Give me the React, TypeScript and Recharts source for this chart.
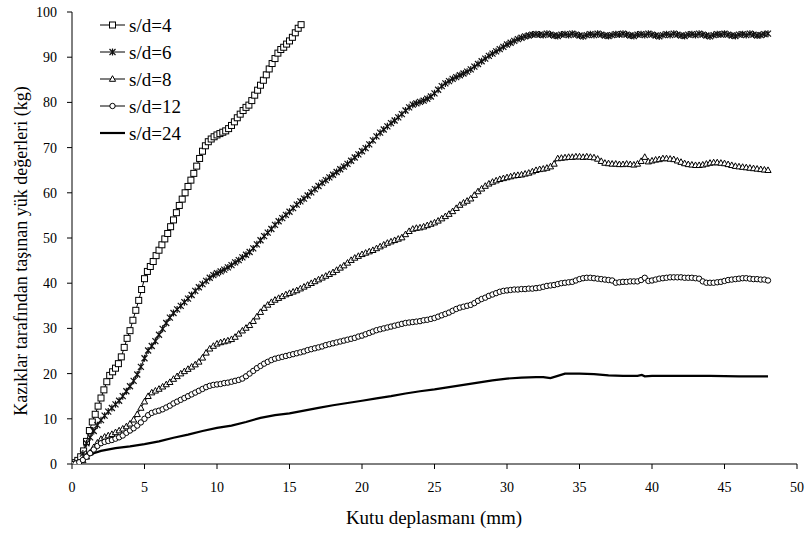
import React from "react";
import { LineChart, Line, XAxis, YAxis, Legend } from "recharts";

// ── Data ───────────────────────────────────────────────────────────────────────

const SERIES_NAMES = ["s/d=4", "s/d=6", "s/d=8", "s/d=12", "s/d=24"];

const X_TICKS = [0, 5, 10, 15, 20, 25, 30, 35, 40, 45, 50];
const Y_TICKS = [0, 10, 20, 30, 40, 50, 60, 70, 80, 90, 100];

// box displacement (mm) for s/d=4
const xs4 = [
  0, 0.2, 0.4, 0.6, 0.8, 1, 1.2, 1.4, 1.6, 1.8,
  2, 2.2, 2.4, 2.6, 2.8, 3, 3.2, 3.4, 3.6, 3.8,
  4, 4.2, 4.4, 4.6, 4.8, 5, 5.2, 5.4, 5.6, 5.8,
  6, 6.2, 6.4, 6.6, 6.8, 7, 7.2, 7.4, 7.6, 7.8,
  8, 8.2, 8.4, 8.6, 8.8, 9, 9.2, 9.4, 9.6, 9.8,
  10, 10.2, 10.4, 10.6, 10.8, 11, 11.2, 11.4, 11.6, 11.8,
  12, 12.2, 12.4, 12.6, 12.8, 13, 13.2, 13.4, 13.6, 13.8,
  14, 14.2, 14.4, 14.6, 14.8, 15, 15.2, 15.4, 15.6, 15.8,
];

const y4 = [
  0, 0.3, 0.8, 1.6, 2.9, 5.0, 7.4, 9.3, 11.0, 12.8,
  14.6, 16.4, 18.2, 19.6, 20.4, 21.2, 22.2, 23.7, 25.8, 27.8,
  29.5, 31.8, 34.0, 36.2, 38.6, 41.0, 42.6, 43.7, 44.8, 46.1,
  47.3, 48.5, 49.8, 51.0, 52.5, 54.0, 55.6, 57.2, 58.6, 60.0,
  61.4, 62.8, 64.3, 65.9, 67.6, 69.2, 70.4, 71.3, 71.9, 72.4,
  72.8, 73.1, 73.4, 73.7, 74.2, 74.9, 75.7, 76.6, 77.4, 78.2,
  78.9, 79.4, 80.4, 81.6, 82.7, 83.8, 84.9, 86.1, 87.4, 88.6,
  89.7, 90.9, 91.7, 92.2, 92.9, 93.6, 94.4, 95.4, 96.4, 97.2,
];

// box displacement (mm) for s/d=6, 8, 12
const xs = [
  0, 0.25, 0.5, 0.75, 1, 1.25, 1.5, 1.75,
  2, 2.25, 2.5, 2.75, 3, 3.25, 3.5, 3.75,
  4, 4.25, 4.5, 4.75, 5, 5.25, 5.5, 5.75,
  6, 6.25, 6.5, 6.75, 7, 7.25, 7.5, 7.75,
  8, 8.25, 8.5, 8.75, 9, 9.25, 9.5, 9.75,
  10, 10.25, 10.5, 10.75, 11, 11.25, 11.5, 11.75,
  12, 12.25, 12.5, 12.75, 13, 13.25, 13.5, 13.75,
  14, 14.25, 14.5, 14.75, 15, 15.25, 15.5, 15.75,
  16, 16.25, 16.5, 16.75, 17, 17.25, 17.5, 17.75,
  18, 18.25, 18.5, 18.75, 19, 19.25, 19.5, 19.75,
  20, 20.25, 20.5, 20.75, 21, 21.25, 21.5, 21.75,
  22, 22.25, 22.5, 22.75, 23, 23.25, 23.5, 23.75,
  24, 24.25, 24.5, 24.75, 25, 25.25, 25.5, 25.75,
  26, 26.25, 26.5, 26.75, 27, 27.25, 27.5, 27.75,
  28, 28.25, 28.5, 28.75, 29, 29.25, 29.5, 29.75,
  30, 30.25, 30.5, 30.75, 31, 31.25, 31.5, 31.75,
  32, 32.25, 32.5, 32.75, 33, 33.25, 33.5, 33.75,
  34, 34.25, 34.5, 34.75, 35, 35.25, 35.5, 35.75,
  36, 36.25, 36.5, 36.75, 37, 37.25, 37.5, 37.75,
  38, 38.25, 38.5, 38.75, 39, 39.25, 39.5, 39.75,
  40, 40.25, 40.5, 40.75, 41, 41.25, 41.5, 41.75,
  42, 42.25, 42.5, 42.75, 43, 43.25, 43.5, 43.75,
  44, 44.25, 44.5, 44.75, 45, 45.25, 45.5, 45.75,
  46, 46.25, 46.5, 46.75, 47, 47.25, 47.5, 47.75,
  48,
];

const y6 = [
  0, 0, 0.2, 2.3, 4.6, 5.9, 7.3, 8.6,
  9.7, 10.7, 11.6, 12.4, 13.2, 14.0, 15.0, 16.1,
  17.2, 18.4, 19.8, 21.5, 23.4, 25.1, 26.1, 27.2,
  28.6, 29.9, 31.2, 32.4, 33.4, 34.2, 35.0, 35.8,
  36.6, 37.4, 38.3, 39.1, 39.8, 40.5, 41.2, 41.8,
  42.2, 42.6, 43.0, 43.5, 44.0, 44.6, 45.1, 45.7,
  46.3, 46.9, 47.7, 48.6, 49.5, 50.4, 51.2, 52.0,
  52.9, 53.7, 54.4, 55.1, 55.8, 56.6, 57.4, 58.1,
  58.7, 59.4, 60.1, 60.8, 61.5, 62.2, 62.8, 63.4,
  64.0, 64.6, 65.2, 65.8, 66.4, 67.1, 67.8, 68.5,
  69.2, 69.9, 70.7, 71.6, 72.5, 73.3, 74.0, 74.7,
  75.4, 76.0, 76.7, 77.4, 78.2, 78.9, 79.5, 79.8,
  80.1, 80.4, 80.8, 81.3, 82.0, 82.8, 83.6, 84.2,
  84.7, 85.2, 85.6, 86.0, 86.4, 86.8, 87.3, 87.9,
  88.5, 89.1, 89.7, 90.3, 90.8, 91.3, 91.8, 92.3,
  92.8, 93.2, 93.6, 94.0, 94.3, 94.6, 94.8, 95.0,
  95.1, 95.0, 94.9, 95.2, 95.0, 94.8, 94.7, 95.0,
  95.1, 94.9, 95.2, 95.0, 94.8, 94.6, 94.9, 95.1,
  94.9, 95.2, 95.0, 94.8, 94.7, 94.9, 95.1, 95.0,
  95.2, 95.0, 94.8, 94.7, 95.0, 95.1, 94.9, 95.2,
  95.0, 94.8, 94.6, 94.9, 95.1, 94.9, 95.2, 95.0,
  94.8, 94.7, 95.0, 95.1, 94.9, 95.2, 95.0, 94.8,
  94.6, 94.9, 95.1, 95.0, 95.2, 95.0, 94.8, 94.7,
  95.0, 95.1, 94.9, 95.2, 95.0, 94.8, 94.9, 95.1,
  95.2,
];

const y8 = [
  0, 0, 0.1, 0.8, 1.6, 2.5, 3.7, 4.7,
  5.5, 6.0, 6.3, 6.6, 7.0, 7.4, 7.8, 8.3,
  8.9, 9.8, 11.0, 12.4, 13.8, 15.0, 15.8, 16.2,
  16.6, 17.1, 17.6, 18.1, 18.8, 19.4, 20.0, 20.5,
  21.0, 21.5, 22.0, 22.6, 23.5, 24.6, 25.5, 26.1,
  26.6, 26.9, 27.1, 27.3, 27.6, 28.1, 28.8, 29.5,
  30.1, 30.7, 31.6, 32.6, 33.6, 34.5, 35.2, 35.8,
  36.3, 36.7, 37.1, 37.5, 37.8, 38.1, 38.4, 38.8,
  39.2, 39.6, 40.0, 40.4, 40.8, 41.2, 41.6, 42.0,
  42.4, 42.9, 43.4, 43.9, 44.5, 45.1, 45.6, 46.0,
  46.4, 46.7, 47.0, 47.3, 47.7, 48.1, 48.5, 48.9,
  49.2, 49.5, 49.8, 50.1, 50.8, 51.5, 52.0, 52.2,
  52.3, 52.5, 52.8, 53.1, 53.4, 53.8, 54.3, 54.8,
  55.3, 55.9, 56.6, 57.3, 57.8, 58.2, 58.7, 59.5,
  60.3, 60.9, 61.5, 62.0, 62.4, 62.7, 63.0, 63.2,
  63.4, 63.6, 63.8, 63.9, 64.0, 64.2, 64.4, 64.7,
  65.0, 65.2, 65.3, 65.5, 65.8, 66.4, 67.6, 67.7,
  67.8, 67.9, 67.9, 68.0, 68.0, 67.9, 68.0, 67.9,
  67.8, 67.5, 67.0, 66.6, 66.5, 66.4, 66.4, 66.3,
  66.3, 66.4, 66.3, 66.2, 66.4, 67.0, 67.9, 66.9,
  67.1, 67.3, 67.4, 67.6, 67.6, 67.5, 67.4, 67.1,
  66.8, 66.5, 66.3, 66.2, 66.1, 66.1, 66.2, 66.4,
  66.6, 66.7, 66.7, 66.6, 66.5, 66.3, 66.1, 65.9,
  65.8, 65.7, 65.6, 65.5, 65.4, 65.3, 65.2, 65.1,
  65.0,
];

const y12 = [
  0, 0.1, 0.4, 0.9, 1.6, 2.4, 3.2, 4.0,
  4.6, 4.9, 5.1, 5.3, 5.6, 5.9, 6.3, 6.9,
  7.4, 7.9, 8.5, 9.2, 10.0, 10.8, 11.3, 11.6,
  11.8, 12.1, 12.5, 12.9, 13.4, 13.8, 14.2, 14.6,
  15.0, 15.4, 15.8, 16.2, 16.6, 17.0, 17.3, 17.5,
  17.6, 17.7, 17.9, 18.0, 18.2, 18.4, 18.6, 18.9,
  19.4, 20.0, 20.6, 21.2, 21.7, 22.2, 22.6, 23.0,
  23.3, 23.5, 23.7, 23.9, 24.1, 24.3, 24.5, 24.7,
  24.9, 25.2, 25.4, 25.6, 25.8, 26.0, 26.3, 26.5,
  26.7, 26.9, 27.1, 27.3, 27.5, 27.7, 27.9, 28.2,
  28.4, 28.7, 29.0, 29.3, 29.6, 29.8, 30.0, 30.2,
  30.4, 30.6, 30.8, 31.0, 31.2, 31.3, 31.4, 31.5,
  31.6, 31.8, 31.9, 32.1, 32.3, 32.6, 32.9, 33.2,
  33.5, 33.9, 34.3, 34.6, 34.8, 35.0, 35.2, 35.6,
  36.1, 36.5, 36.8, 37.2, 37.5, 37.8, 38.1, 38.3,
  38.4, 38.5, 38.6, 38.6, 38.7, 38.7, 38.8, 38.8,
  38.9, 39.0, 39.2, 39.4, 39.5, 39.6, 39.8, 40.0,
  40.1, 40.2, 40.3, 40.6, 40.9, 41.1, 41.2, 41.2,
  41.1, 41.0, 40.9, 40.8, 40.7, 40.6, 40.1, 40.2,
  40.3, 40.3, 40.4, 40.4, 40.4, 40.7, 41.2, 40.5,
  40.6, 40.8, 41.0, 41.1, 41.2, 41.3, 41.3, 41.3,
  41.3, 41.2, 41.2, 41.2, 41.1, 41.0, 40.4, 40.1,
  40.1, 40.1, 40.2, 40.3, 40.5, 40.7, 40.8, 40.9,
  41.0, 41.1, 41.1, 41.0, 40.9, 40.9, 40.8, 40.8,
  40.6,
];

// s/d=24 is drawn as a plain line, so a coarser set of points is enough
const xs24 = [
  0, 0.5, 1, 1.5, 2, 3, 4, 5, 6, 7, 8, 9, 10, 11, 12, 13, 14, 15, 16, 17,
  18, 19, 20, 21, 22, 23, 24, 25, 26, 27, 28, 29, 30, 31, 32, 32.5, 33, 33.5,
  34, 35, 36, 37, 38, 39, 39.3, 39.5, 40, 42, 44, 46, 48,
];

const y24 = [
  0, 0.5, 1.6, 2.4, 2.9, 3.5, 3.9, 4.4, 5.0, 5.8, 6.5, 7.3, 8.0, 8.5, 9.3, 10.2, 10.8, 11.2, 11.8, 12.4,
  13.0, 13.5, 14.0, 14.5, 15.0, 15.6, 16.1, 16.5, 17.0, 17.5, 18.0, 18.5, 18.9, 19.1, 19.2, 19.2, 19.0, 19.5,
  20.0, 20.0, 19.9, 19.6, 19.5, 19.5, 19.7, 19.4, 19.5, 19.5, 19.5, 19.4, 19.4,
];

const toPoints = (x: number[], y: number[]) => x.map((v, i) => ({ x: v, y: y[i] }));

const FONT = "Liberation Serif";

// ── Markers ───────────────────────────────────────────────────────────────────

function squareMark(cx: number, cy: number, key?: string) {
  return <rect key={key} x={cx - 3} y={cy - 3} width={6} height={6} fill="#fff" stroke="#000" strokeWidth={1} />;
}

function starMark(cx: number, cy: number, key?: string) {
  const d =
    `M${cx - 3},${cy - 3}L${cx + 3},${cy + 3}` +
    `M${cx + 3},${cy - 3}L${cx - 3},${cy + 3}` +
    `M${cx},${cy - 3.5}L${cx},${cy + 3.5}`;
  return <path key={key} d={d} stroke="#111" strokeWidth={1.2} fill="none" />;
}

function triangleMark(cx: number, cy: number, key?: string) {
  const pts = `${cx},${cy - 3.3} ${cx - 3.1},${cy + 2.3} ${cx + 3.1},${cy + 2.3}`;
  return <polygon key={key} points={pts} fill="#fff" stroke="#000" strokeWidth={1} />;
}

function circleMark(cx: number, cy: number, key?: string) {
  return <circle key={key} cx={cx} cy={cy} r={2.7} fill="#fff" stroke="#000" strokeWidth={1} />;
}

const MARKS = [squareMark, starMark, triangleMark, circleMark, null];

const dotFor = (i: number) => (p: any) => {
  const mark = MARKS[i];
  if (!mark || p.cx == null || p.cy == null) return <g key={`d${i}-${p.index}`} />;
  return mark(p.cx, p.cy, `d${i}-${p.index}`);
};

// ── Legend ───────────────────────────────────────────────────────────────────

function LegendBox() {
  return (
    <svg width={220} height={150} style={{ display: "block" }}>
      {SERIES_NAMES.map((name, i) => {
        const y = 25 + i * 27;
        const mark = MARKS[i];
        return (
          <g key={name}>
            <line x1={100} x2={125} y1={y} y2={y} stroke="#000" strokeWidth={mark ? 1 : 2.2} />
            {mark && mark(112.5, y)}
            <text x={129} y={y} dy="0.35em" fontSize={19} fontFamily={FONT} fill="#000">
              {name}
            </text>
          </g>
        );
      })}
    </svg>
  );
}

// ── Axis titles ───────────────────────────────────────────────────────────────

const YTitle = () => (
  <text
    x={21}
    y={251}
    transform="rotate(-90 21 251)"
    textAnchor="middle"
    dominantBaseline="central"
    fontSize={18}
    fontFamily={FONT}
    fill="#000"
  >
    Kazıklar tarafından taşınan yük değerleri (kg)
  </text>
);

const XTitle = () => (
  <text x={434} y={517} textAnchor="middle" dominantBaseline="central" fontSize={19} fontFamily={FONT} fill="#000">
    Kutu deplasmanı (mm)
  </text>
);

// ── Chart ────────────────────────────────────────────────────────────────────

export default function App() {
  const series = [
    toPoints(xs4, y4),
    toPoints(xs, y6),
    toPoints(xs, y8),
    toPoints(xs, y12),
    toPoints(xs24, y24),
  ];

  return (
    <div style={{ position: "absolute", left: 0, top: 0, width: 805, height: 534, background: "#fff", fontFamily: FONT }}>
      <LineChart width={805} height={534} margin={{ top: 12, right: 8, left: 8, bottom: 0 }}>
        <XAxis
          type="number"
          dataKey="x"
          domain={[0, 50]}
          ticks={X_TICKS}
          allowDataOverflow
          height={70}
          tickSize={5}
          tickMargin={13}
          stroke="#000"
          tick={{ fontSize: 14, fontFamily: FONT, fill: "#000" }}
          label={XTitle}
        />
        <YAxis
          type="number"
          dataKey="y"
          domain={[0, 100]}
          ticks={Y_TICKS}
          allowDataOverflow
          width={64}
          tickSize={5}
          tickMargin={10}
          stroke="#000"
          tick={{ fontSize: 14, fontFamily: FONT, fill: "#000" }}
          label={YTitle}
        />
        <Legend
          layout="vertical"
          align="center"
          verticalAlign="middle"
          wrapperStyle={{ top: 0, left: 0, width: 220, height: 150 }}
          content={LegendBox}
        />
        {series.map((data, i) => (
          <Line
            key={SERIES_NAMES[i]}
            data={data}
            dataKey="y"
            name={SERIES_NAMES[i]}
            type="linear"
            stroke="#000"
            strokeWidth={i === 4 ? 2.2 : 1}
            dot={MARKS[i] ? dotFor(i) : false}
            activeDot={false}
            isAnimationActive={false}
          />
        ))}
      </LineChart>
    </div>
  );
}
